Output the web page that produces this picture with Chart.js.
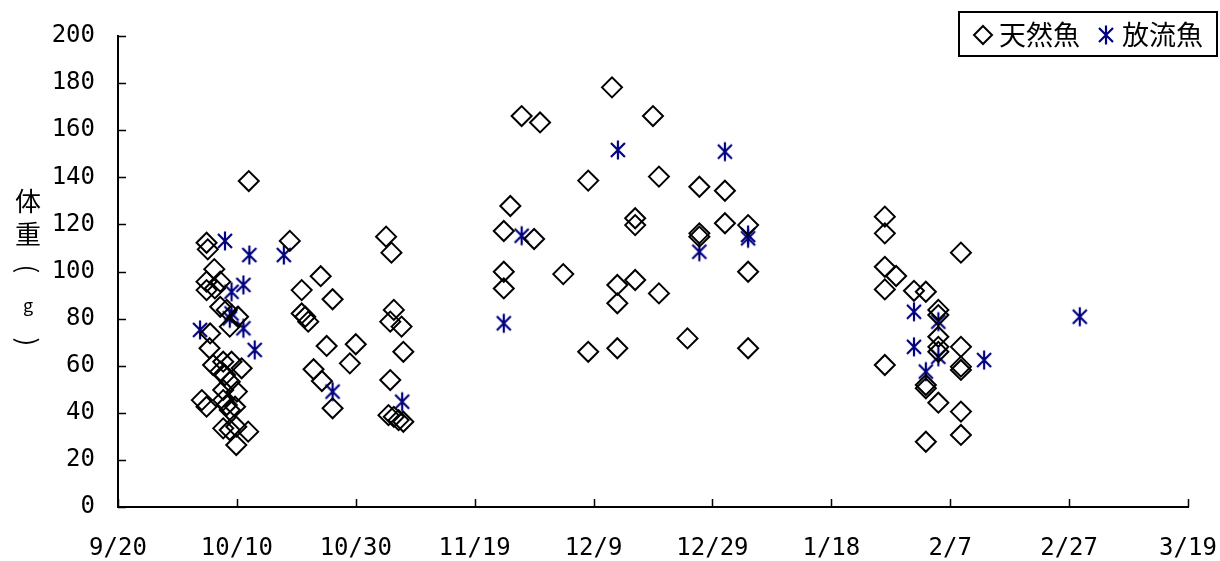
<!DOCTYPE html>
<html>
<head>
<meta charset="utf-8">
<script src="https://cdn.jsdelivr.net/npm/chart.js@4.4.1/dist/chart.umd.min.js"></script>
<style>
  html, body { margin: 0; padding: 0; background: #fff; }
  #wrap { width: 1220px; height: 561px; }
</style>
</head>
<body>
<div id="wrap"><canvas id="c" width="1220" height="561"></canvas></div>
<script>
// x values are days counted from 9/20; one tick every 20 days
const xTickLabels = ['9/20', '10/10', '10/30', '11/19', '12/9', '12/29', '1/18', '2/7', '2/27', '3/19'];
const seriesNames = ['天然魚', '放流魚'];
const yTitleChars = ['体', '重', '(', 'g', ')'];

// 天然魚 (wild fish)
const wildDay = [
  14.9, 15.1, 22.0, 16.2, 14.9, 17.2, 14.9, 16.3, 17.2, 18.3, 20.2, 18.8, 15.5, 15.4, 16.0, 17.7, 19.1,
  20.8, 17.2, 18.0, 18.8, 20.0, 17.7, 14.1, 14.9, 17.7, 18.3, 18.8, 19.7, 17.7, 18.8, 19.9, 21.9, 19.9,
  28.9, 34.1, 30.9, 36.1, 30.9, 31.5, 32.0, 35.1, 40.0, 39.0, 32.9, 34.3, 36.1,
  45.1, 46.0, 46.4, 45.8, 47.7, 48.0, 45.8, 45.5, 46.4, 47.2, 48.0,
  67.9, 71.0, 79.1, 66.0, 64.9, 70.0, 64.9, 64.9, 74.9, 79.1,
  83.1, 90.0, 91.0, 97.8, 102.1, 87.0, 87.0, 102.1, 106.0, 97.8, 97.8, 106.0, 87.0, 84.0, 84.0, 91.0,
  95.8, 84.0, 106.0,
  129.0, 129.0, 141.8, 129.0, 130.9, 129.0, 133.9, 135.9, 138.0, 138.0, 138.0, 138.0, 138.0, 141.8,
  129.0, 141.8, 141.8, 135.9, 135.9, 138.0, 141.8, 135.9, 141.8
];
const wildWeight = [
  112.2, 109.4, 138.4, 101.0, 95.7, 95.7, 92.1, 92.8, 85.0, 83.7, 80.8, 76.6, 73.7, 67.4, 60.3, 61.7, 61.7,
  58.9, 57.5, 56.0, 53.2, 49.0, 49.7, 45.4, 42.6, 45.4, 43.3, 41.2, 42.6, 33.4, 32.7, 34.1, 32.0, 26.3,
  113.0, 98.0, 92.1, 88.2, 82.2, 80.8, 78.7, 68.4, 69.1, 61.0, 58.5, 53.5, 41.9,
  114.8, 108.0, 83.7, 78.7, 76.6, 65.9, 53.9, 39.0, 38.3, 36.9, 36.2,
  166.0, 163.3, 138.6, 127.8, 117.2, 113.8, 99.9, 92.8, 98.9, 65.9,
  178.2, 166.0, 140.3, 136.0, 134.3, 122.6, 119.7, 120.5, 119.7, 116.2, 114.8, 99.9, 96.4, 94.3, 86.5, 90.7,
  71.6, 67.4, 67.4,
  123.3, 116.2, 108.0, 102.0, 98.1, 92.4, 91.8, 91.4, 83.7, 81.5, 72.3, 68.0, 65.9, 68.0,
  60.3, 59.6, 58.2, 51.8, 50.4, 44.3, 40.5, 27.7, 30.6
];

// 放流魚 (stocked fish)
const stockedDay = [
  18.0, 22.1, 27.9, 21.1, 19.1, 19.1, 18.8, 21.1, 13.8, 23.0, 36.1, 47.8,
  67.9, 64.9, 84.1, 102.1, 106.0, 106.0, 97.8,
  133.9, 138.0, 133.9, 138.0, 145.7, 135.9, 161.8
];
const stockedWeight = [
  113.0, 107.0, 107.0, 94.3, 91.4, 82.2, 80.1, 75.9, 75.2, 66.7, 49.0, 44.7,
  115.2, 78.0, 151.6, 150.9, 115.5, 114.1, 108.4,
  82.9, 78.7, 68.0, 63.8, 62.4, 57.5, 80.8
];

const NAVY = '#000080';
const toPoints = (xs, ys) => xs.map((x, i) => ({ x: x, y: ys[i] }));

// six-armed asterisk marker (vertical stroke plus an X)
function makeAsterisk() {
  const s = 24, c = s / 2, r = 9.5, d = 7;
  const cv = document.createElement('canvas');
  cv.width = s; cv.height = s;
  const g = cv.getContext('2d');
  g.strokeStyle = NAVY;
  g.lineWidth = 2.2;
  g.beginPath();
  g.moveTo(c, c - r); g.lineTo(c, c + r);
  g.moveTo(c - d, c - d); g.lineTo(c + d, c + d);
  g.moveTo(c + d, c - d); g.lineTo(c - d, c + d);
  g.stroke();
  return cv;
}
const asterisk = makeAsterisk();

function drawDiamond(ctx, x, y, r) {
  ctx.beginPath();
  ctx.moveTo(x, y - r);
  ctx.lineTo(x + r, y);
  ctx.lineTo(x, y + r);
  ctx.lineTo(x - r, y);
  ctx.closePath();
  ctx.stroke();
}

// tick marks pointing into the plot, vertical axis title, boxed legend
const decorations = {
  id: 'decorations',
  afterDraw(chart) {
    const ctx = chart.ctx;
    const xs = chart.scales.x, ys = chart.scales.y;
    const a = chart.chartArea;
    ctx.save();
    ctx.strokeStyle = '#000';
    ctx.lineWidth = 1.5;
    ctx.beginPath();
    xs.ticks.forEach(t => {
      const px = Math.round(xs.getPixelForValue(t.value)) + 0.5;
      ctx.moveTo(px, a.bottom);
      ctx.lineTo(px, a.bottom - 8);
    });
    ys.ticks.forEach(t => {
      const py = Math.round(ys.getPixelForValue(t.value)) + 0.5;
      ctx.moveTo(a.left, py);
      ctx.lineTo(a.left + 8, py);
    });
    ctx.stroke();

    // vertical title: characters stacked, brackets turned sideways
    ctx.fillStyle = '#000';
    ctx.textAlign = 'center';
    ctx.textBaseline = 'middle';
    const titleY = [201, 234, 269, 305, 342];
    yTitleChars.forEach((ch, i) => {
      if (ch === '(' || ch === ')') {
        ctx.save();
        ctx.translate(28, titleY[i]);
        ctx.rotate(Math.PI / 2);
        ctx.font = '26px "Noto Sans CJK JP"';
        ctx.fillText(ch, 0, 0);
        ctx.restore();
      } else {
        ctx.font = (ch === 'g' ? '18px' : '26px') + ' "Noto Sans CJK JP"';
        ctx.fillText(ch, 28, titleY[i]);
      }
    });

    // legend
    ctx.lineWidth = 2;
    ctx.strokeRect(959, 12, 258, 44);
    drawDiamond(ctx, 983, 35, 9);
    ctx.drawImage(asterisk, 1106 - 12, 35 - 12);
    ctx.font = '27px "Noto Sans CJK JP"';
    ctx.textAlign = 'left';
    ctx.fillText(seriesNames[0], 999, 35);
    ctx.fillText(seriesNames[1], 1122, 35);
    ctx.restore();
  }
};

new Chart(document.getElementById('c'), {
  type: 'scatter',
  data: {
    datasets: [
      {
        label: seriesNames[0],
        data: toPoints(wildDay, wildWeight),
        pointStyle: 'rectRot',
        pointRadius: 10,
        pointHoverRadius: 10,
        borderColor: '#000',
        backgroundColor: 'rgba(0,0,0,0)',
        pointBorderWidth: 2,
        clip: false
      },
      {
        label: seriesNames[1],
        data: toPoints(stockedDay, stockedWeight),
        pointStyle: asterisk,
        pointRadius: 10,
        borderColor: NAVY,
        backgroundColor: NAVY,
        clip: false
      }
    ]
  },
  options: {
    responsive: false,
    animation: false,
    events: [],
    layout: { autoPadding: false, padding: { left: 0, top: 36, right: 32, bottom: 0 } },
    plugins: { legend: { display: false }, tooltip: { enabled: false } },
    scales: {
      x: {
        type: 'linear',
        min: 0, max: 180,
        grid: { display: false },
        border: { display: true, color: '#000', width: 2 },
        ticks: {
          stepSize: 20,
          padding: 19,
          maxRotation: 0,
          color: '#000',
          font: { family: '"DejaVu Sans Mono"', size: 24 },
          callback: v => xTickLabels[Math.round(v / 20)]
        },
        afterFit: s => { s.height = 54; s.paddingLeft = 0; s.paddingRight = 0; }
      },
      y: {
        min: 0, max: 200,
        grid: { display: false },
        border: { display: true, color: '#000', width: 2 },
        ticks: {
          stepSize: 20,
          padding: 15,
          color: '#000',
          font: { family: '"DejaVu Sans Mono"', size: 24 }
        },
        afterFit: s => { s.width = 118; s.paddingTop = 0; s.paddingBottom = 0; }
      }
    }
  },
  plugins: [decorations]
});
</script>
</body>
</html>
